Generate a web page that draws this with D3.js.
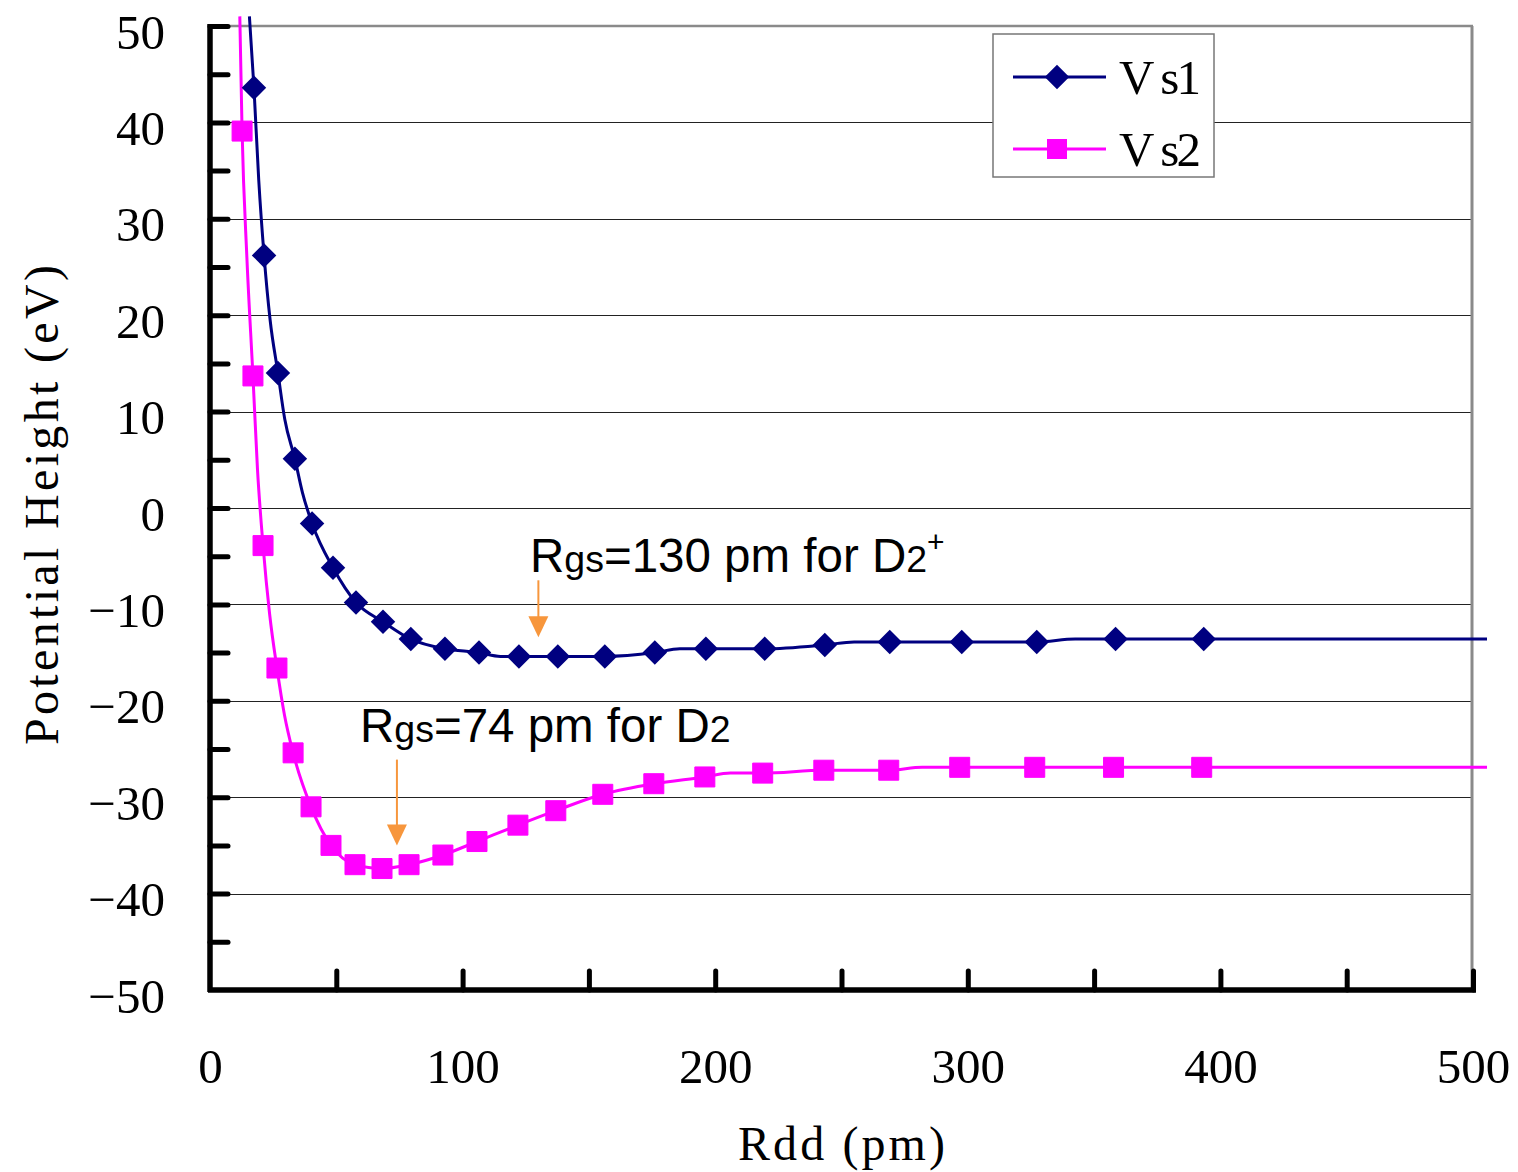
<!DOCTYPE html>
<html>
<head>
<meta charset="utf-8">
<script src="https://cdn.jsdelivr.net/npm/d3@7"></script>
<style>
  html, body { margin: 0; padding: 0; background: #fff; }
  svg { display: block; }
  .serif { font-family: "Liberation Serif", "DejaVu Serif", serif; }
  .sans { font-family: "Liberation Sans", Arial, sans-serif; }
</style>
</head>
<body>
<svg id="chart" width="1518" height="1172"></svg>
<script>
// Potential curves Vs1 (D2+) and Vs2 (D2) versus internuclear distance Rdd (pm)

// Marker points, Vs1
const vs1X = [17.4, 21.4, 26.9, 33.6, 40.4, 48.7, 57.8, 68.5, 79.5, 93.0, 106.5, 122.3, 137.7, 156.3, 176.1, 196.3, 219.6, 243.4, 269.1, 297.6, 327.3, 358.5, 393.4];
const vs1Y = [43.6, 26.2, 14.0, 5.1, -1.6, -6.2, -9.8, -11.8, -13.6, -14.6, -15.0, -15.4, -15.4, -15.4, -15.0, -14.6, -14.6, -14.2, -13.9, -13.9, -13.9, -13.6, -13.6];
// Curve through Vs1 (includes points drawn without markers)
const vs1LineX = [15.6, 17.4, 19.3, 21.4, 23.8, 26.9, 29.6, 33.6, 36.6, 40.4, 48.7, 57.8, 68.5, 79.5, 93.0, 106.5, 115.0, 122.3, 137.7, 156.3, 176.1, 186.0, 196.3, 219.6, 243.4, 255.0, 269.1, 297.6, 327.3, 342.5, 358.5, 393.4, 600];
const vs1LineY = [51.0, 43.6, 34.0, 26.2, 19.5, 14.0, 9.2, 5.1, 1.6, -1.6, -6.2, -9.8, -11.8, -13.6, -14.6, -15.0, -15.4, -15.4, -15.4, -15.4, -15.0, -14.6, -14.6, -14.6, -14.2, -13.9, -13.9, -13.9, -13.9, -13.6, -13.6, -13.6, -13.6];

// Marker points, Vs2
const vs2X = [12.7, 17.0, 21.0, 26.5, 32.9, 40.0, 47.9, 57.4, 68.1, 78.8, 92.2, 105.7, 121.9, 136.9, 155.5, 175.7, 195.9, 218.8, 243.0, 268.7, 296.8, 326.5, 357.7, 392.6];
const vs2Y = [39.1, 13.7, -3.9, -16.6, -25.4, -31.0, -35.0, -37.0, -37.4, -37.0, -36.0, -34.6, -32.9, -31.4, -29.7, -28.6, -27.9, -27.5, -27.2, -27.2, -26.9, -26.9, -26.9, -26.9];
// Curve through Vs2
const vs2LineX = [11.8, 12.7, 14.6, 17.0, 18.8, 21.0, 23.6, 26.5, 29.5, 32.9, 40.0, 47.9, 57.4, 68.1, 78.8, 92.2, 105.7, 121.9, 136.9, 155.5, 175.7, 195.9, 206.0, 218.8, 243.0, 268.7, 282.0, 296.8, 326.5, 357.7, 392.6, 600];
const vs2LineY = [51.0, 39.1, 26.0, 13.7, 4.0, -3.9, -11.0, -16.6, -21.5, -25.4, -31.0, -35.0, -37.0, -37.4, -37.0, -36.0, -34.6, -32.9, -31.4, -29.7, -28.6, -27.9, -27.5, -27.5, -27.2, -27.2, -26.9, -26.9, -26.9, -26.9, -26.9, -26.9];

// Axis ticks
const yTickLabels = [50, 40, 30, 20, 10, 0, -10, -20, -30, -40, -50];
const yMinorTicks = [-45, -40, -35, -30, -25, -20, -15, -10, -5, 0, 5, 10, 15, 20, 25, 30, 35, 40, 45, 50];
const xTickLabels = [0, 100, 200, 300, 400, 500];
const xMinorTicks = [50, 100, 150, 200, 250, 300, 350, 400, 450, 500];
const gridValues = [40, 30, 20, 10, 0, -10, -20, -30, -40];

// Annotations: equilibrium distances
const seriesNames = ["V s1", "V s2"];
const rgsValues = [130, 74];

const svg = d3.select("#chart");
const x = d3.scaleLinear().domain([0, 500]).range([210, 1473]);
const y = d3.scaleLinear().domain([-50, 50]).range([990, 26]);

const navy = "#000080", magenta = "#ff00ff", orange = "#f7963c";

// Grid
svg.append("g").selectAll("line").data(gridValues).join("line")
  .attr("x1", x(0)).attr("x2", x(500))
  .attr("y1", d => Math.round(y(d)) + 0.5).attr("y2", d => Math.round(y(d)) + 0.5)
  .attr("stroke", "#222").attr("stroke-width", 1.2);
// top and right frame of plot area
svg.append("line").attr("x1", x(0)).attr("x2", x(500)).attr("y1", y(50)).attr("y2", y(50))
  .attr("stroke", "#8a8a8a").attr("stroke-width", 2.5);
svg.append("line").attr("x1", x(500) - 1).attr("x2", x(500) - 1).attr("y1", y(50)).attr("y2", y(-50))
  .attr("stroke", "#8a8a8a").attr("stroke-width", 3);

// Series lines
svg.append("defs").append("clipPath").attr("id", "clip")
  .append("rect").attr("x", 200).attr("y", 15).attr("width", 1287).attr("height", 985);

const line = d3.line().x(d => x(d[0])).y(d => y(d[1])).curve(d3.curveMonotoneX);
const lineG = svg.append("g").attr("clip-path", "url(#clip)");
lineG.append("path").datum(d3.zip(vs2LineX, vs2LineY))
  .attr("d", line).attr("fill", "none").attr("stroke", magenta).attr("stroke-width", 3);
lineG.append("path").datum(d3.zip(vs1LineX, vs1LineY))
  .attr("d", line).attr("fill", "none").attr("stroke", navy).attr("stroke-width", 3);

// Markers
const diamond = d3.symbol().type(d3.symbolSquare).size(300)();
const square = d3.symbol().type(d3.symbolSquare).size(400)();
svg.append("g").selectAll("path").data(d3.zip(vs2X, vs2Y)).join("path")
  .attr("d", square).attr("fill", magenta)
  .attr("stroke", magenta).attr("stroke-width", 1).attr("stroke-linejoin", "round")
  .attr("transform", d => `translate(${x(d[0])},${y(d[1])})`);
svg.append("g").selectAll("path").data(d3.zip(vs1X, vs1Y)).join("path")
  .attr("d", diamond).attr("fill", navy)
  .attr("transform", d => `translate(${x(d[0])},${y(d[1])}) rotate(45)`);

// Axes: ticks point into the plot
const yTicks = svg.append("g").attr("transform", `translate(${x(0)},0)`)
  .call(d3.axisRight(y).tickValues(yMinorTicks).tickSize(18).tickFormat(""));
const xTicks = svg.append("g").attr("transform", `translate(0,${y(-50)})`)
  .call(d3.axisTop(x).tickValues(xMinorTicks).tickSize(19).tickFormat(""));
[yTicks, xTicks].forEach(g => {
  g.select(".domain").remove();
  g.selectAll(".tick line").attr("stroke", "#000").attr("stroke-width", 5).attr("stroke-linecap", "round");
});
svg.append("line").attr("x1", x(0)).attr("x2", x(0)).attr("y1", y(50) - 2).attr("y2", y(-50) + 2)
  .attr("stroke", "#000").attr("stroke-width", 5.5);
svg.append("line").attr("x1", x(0) - 2).attr("x2", x(500) + 3).attr("y1", y(-50)).attr("y2", y(-50))
  .attr("stroke", "#000").attr("stroke-width", 5.5);

// Tick labels
const fmt = d => d < 0 ? "\u2212" + Math.abs(d) : String(d);
const yLab = svg.append("g").attr("transform", `translate(${x(0)},0)`)
  .call(d3.axisLeft(y).tickValues(yTickLabels).tickSize(0).tickPadding(45).tickFormat(fmt));
yLab.select(".domain").remove();
yLab.selectAll("text").attr("class", "serif").attr("font-size", 49).attr("fill", "#000")
  .attr("font-family", null).attr("dy", "0.45em");

const xLab = svg.append("g").attr("transform", `translate(0,${y(-50)})`)
  .call(d3.axisBottom(x).tickValues(xTickLabels).tickSize(0).tickFormat(fmt));
xLab.select(".domain").remove();
xLab.selectAll("text").attr("class", "serif").attr("font-size", 49).attr("fill", "#000")
  .attr("font-family", null).attr("y", 93).attr("dy", null);

// Axis titles
svg.append("text").attr("class", "serif").attr("font-size", 48)
  .attr("x", 738).attr("y", 1160)
  .attr("textLength", 207).attr("lengthAdjust", "spacing")
  .text("Rdd (pm)");
svg.append("text").attr("class", "serif").attr("font-size", 48)
  .attr("transform", "translate(58,745) rotate(-90)")
  .attr("textLength", 480).attr("lengthAdjust", "spacing")
  .text("Potential Height (eV)");

// Annotations with arrows
function annotation(xStart, baseline, value, plus) {
  const t = svg.append("text").attr("class", "sans").attr("x", xStart).attr("y", baseline)
    .attr("font-size", 47.5).attr("fill", "#000");
  t.append("tspan").text("R");
  t.append("tspan").attr("font-size", 37.5).text("gs");
  t.append("tspan").text(`=${value} pm for D`);
  t.append("tspan").attr("font-size", 37.5).text("2");
  if (plus) t.append("tspan").attr("font-size", 30).attr("dy", -20).text("+");
}
annotation(530, 572, rgsValues[0], true);
annotation(360, 742, rgsValues[1], false);

const arrowTops = [-7.5, -26.1];
const arrowTips = [-13.4, -35.0];
rgsValues.forEach((v, i) => {
  const ax = x(v), y0 = y(arrowTops[i]), y1 = y(arrowTips[i]);
  svg.append("line").attr("x1", ax).attr("x2", ax).attr("y1", y0).attr("y2", y1 - 18)
    .attr("stroke", orange).attr("stroke-width", 2);
  svg.append("path")
    .attr("d", `M${ax - 10},${y1 - 21} L${ax + 10},${y1 - 21} L${ax},${y1} Z`)
    .attr("fill", orange);
});

// Legend
const lg = svg.append("g");
lg.append("rect").attr("x", 993).attr("y", 34).attr("width", 221).attr("height", 143)
  .attr("fill", "#fff").attr("stroke", "#777").attr("stroke-width", 1.5);
const legendRows = [
  { name: seriesNames[0], color: navy, sym: diamond, rot: 45, cy: 77 },
  { name: seriesNames[1], color: magenta, sym: square, rot: 0, cy: 149 }
];
legendRows.forEach(r => {
  lg.append("line").attr("x1", 1013).attr("x2", 1106).attr("y1", r.cy).attr("y2", r.cy)
    .attr("stroke", r.color).attr("stroke-width", 3);
  lg.append("path").attr("d", r.sym).attr("fill", r.color)
    .attr("transform", `translate(1057,${r.cy}) rotate(${r.rot})`);
  lg.append("text").attr("class", "serif").attr("font-size", 49)
    .attr("x", 1119).attr("y", r.cy + 17)
    .attr("textLength", 82).attr("lengthAdjust", "spacing").text(r.name);
});
</script>
</body>
</html>
